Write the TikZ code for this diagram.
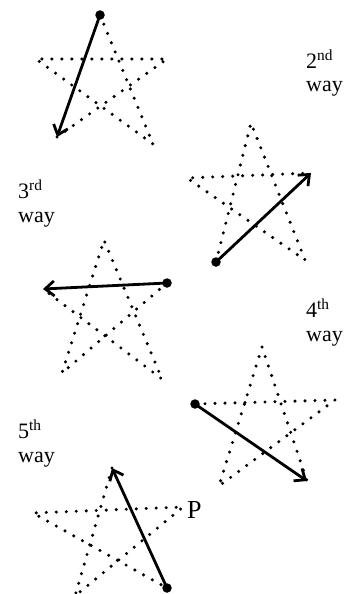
\documentclass[tikz,border=0pt]{standalone}
\usepackage{fontspec}
\setmainfont{Liberation Serif}
\usetikzlibrary{arrows.meta}

\begin{document}
\begin{tikzpicture}[x=1pt, y=-1pt,
  stardots/.style={line width=3.4pt, line cap=round, dash pattern=on 0pt off 10pt},
  stroke/.style={line width=2.8pt, -{Straight Barb[length=9pt, width=15pt]}},
  startdot/.style={circle, fill, inner sep=0pt, minimum size=9.5pt},
  waylabel/.style={anchor=base west, inner sep=0pt, align=left, font=\fontsize{22}{24}\selectfont}]
  \useasboundingbox (0,0) rectangle (354,594);

  % 1st way
  \coordinate (t1) at (100,15);  \coordinate (l1) at (36,59);  \coordinate (r1) at (167,59);
  \coordinate (bl1) at (57,137); \coordinate (br1) at (153,144);
  \draw[stardots] (bl1) -- (r1) -- (l1) -- (br1) -- (t1);
  \node[startdot] (s1) at (t1) {};
  \draw[stroke] (s1.center) -- (bl1);

  % 2nd way
  \coordinate (t2) at (251,123);  \coordinate (l2) at (187,178); \coordinate (r2) at (311,173);
  \coordinate (bl2) at (216,262); \coordinate (br2) at (305,260);
  \draw[stardots] (bl2) -- (t2) -- (br2) -- (l2) -- (r2);
  \node[startdot] (s2) at (bl2) {};
  \draw[stroke] (s2.center) -- (r2);

  % 3rd way
  \coordinate (t3) at (104,240);  \coordinate (l3) at (43,289);  \coordinate (r3) at (167,283);
  \coordinate (bl3) at (62,373);  \coordinate (br3) at (162,379);
  \draw[stardots] (r3) -- (bl3) -- (t3) -- (br3) -- (l3);
  \node[startdot] (s3) at (r3) {};
  \draw[stroke] (s3.center) -- (l3);

  % 4th way
  \coordinate (t4) at (262,347);  \coordinate (l4) at (195,404); \coordinate (r4) at (335,400);
  \coordinate (bl4) at (219,486); \coordinate (br4) at (307,481);
  \draw[stardots] (l4) -- (r4) -- (bl4) -- (t4) -- (br4);
  \node[startdot] (s4) at (l4) {};
  \draw[stroke] (s4.center) -- (br4);

  % 5th way
  \coordinate (t5) at (112,468);  \coordinate (l5) at (33,513);  \coordinate (r5) at (183,507);
  \coordinate (bl5) at (75,596);  \coordinate (br5) at (167,588);
  \draw[stardots] (t5) -- (bl5) -- (r5) -- (l5) -- (br5);
  \node[startdot] (s5) at (br5) {};
  \draw[stroke] (s5.center) -- (t5);
  \node[anchor=base west, inner sep=0pt, font=\fontsize{26}{30}\selectfont] (p) at (187,518) {P};

  % labels (anchored at the baseline of "way")
  \foreach \x/\y/\n/\s in {306/92/2/nd, 18/222/3/rd, 306/341/4/th, 18/462/5/th} {
    \node[waylabel] (way\n) at (\x,\y) {\n\textsuperscript{\s}\\way};
  }
\end{tikzpicture}
\end{document}
